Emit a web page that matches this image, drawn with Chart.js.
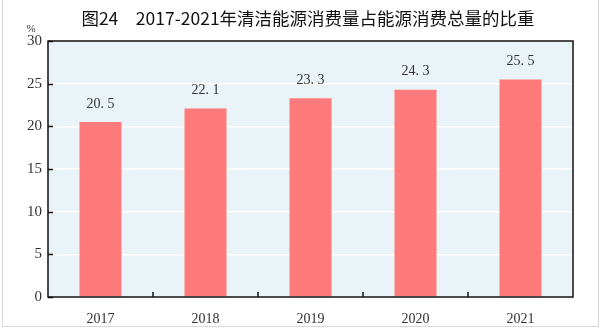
<!DOCTYPE html>
<html>
<head>
<meta charset="utf-8">
<script src="https://cdn.jsdelivr.net/npm/chart.js@4"></script>
<style>
  html, body { margin: 0; padding: 0; background: #fff; }
  #wrap { width: 600px; height: 329px; position: relative; }
</style>
</head>
<body>
<div id="wrap"><canvas id="chart" width="600" height="329"></canvas></div>
<script>
// Clean energy share of total energy consumption
const years = ['2017', '2018', '2019', '2020', '2021'];
const shares = [20.5, 22.1, 23.3, 24.3, 25.5];
const yTicks = [0, 5, 10, 15, 20, 25, 30];
const titleText = '图24　2017-2021年清洁能源消费量占能源消费总量的比重';

const serif = "'Liberation Serif', 'DejaVu Serif', serif";
const textColor = '#333';

// background, frame, inward ticks, value labels
const decor = {
  id: 'decor',
  beforeDraw(chart) {
    const { ctx, chartArea: a } = chart;
    ctx.save();
    ctx.fillStyle = '#fff';
    ctx.fillRect(0, 0, chart.width, chart.height);
    ctx.fillStyle = '#eaf3f7';
    ctx.fillRect(a.left, a.top, a.right - a.left, a.bottom - a.top);
    // outer light frame
    ctx.strokeStyle = '#d9d9d9';
    ctx.lineWidth = 1;
    ctx.strokeRect(2.5, -1, 596, 327.5);
    // title
    ctx.fillStyle = '#111';
    ctx.font = "normal 17.5px 'Noto Sans CJK SC', sans-serif";
    ctx.textAlign = 'center';
    ctx.textBaseline = 'middle';
    ctx.fillText(titleText, 308, 18);
    // unit
    ctx.font = '11px ' + serif;
    ctx.fillStyle = textColor;
    ctx.fillText('%', 31, 29);
    ctx.restore();
  },
  afterDatasetsDraw(chart) {
    const { ctx, chartArea: a, scales } = chart;
    ctx.save();
    ctx.strokeStyle = '#111';
    ctx.lineWidth = 1.5;
    // y ticks pointing inward
    yTicks.forEach(v => {
      const y = Math.round(scales.y.getPixelForValue(v)) + 0.5;
      ctx.beginPath();
      ctx.moveTo(a.left, y);
      ctx.lineTo(a.left + 5, y);
      ctx.stroke();
    });
    // x ticks between categories pointing inward
    for (let i = 0; i < years.length - 1; i++) {
      const x = (scales.x.getPixelForValue(i) + scales.x.getPixelForValue(i + 1)) / 2;
      ctx.beginPath();
      ctx.moveTo(x, a.bottom);
      ctx.lineTo(x, a.bottom - 5);
      ctx.stroke();
    }
    ctx.strokeRect(a.left, a.top, a.right - a.left, a.bottom - a.top);
    // value labels
    ctx.fillStyle = textColor;
    ctx.font = '14px ' + serif;
    ctx.textAlign = 'center';
    ctx.textBaseline = 'middle';
    const meta = chart.getDatasetMeta(0);
    meta.data.forEach((bar, i) => {
      ctx.fillText(shares[i].toFixed(1).replace('.', '. '), bar.x, bar.y - 18);
    });
    ctx.restore();
  }
};

new Chart(document.getElementById('chart').getContext('2d'), {
  type: 'bar',
  data: {
    labels: years,
    datasets: [{
      data: shares,
      backgroundColor: '#ff7b7b',
      borderWidth: 0,
      barPercentage: 0.4,
      categoryPercentage: 1
    }]
  },
  options: {
    responsive: false,
    animation: false,
    devicePixelRatio: 1,
    layout: { padding: { top: 41, left: 8, right: 27, bottom: 0 } },
    plugins: {
      legend: { display: false },
      tooltip: { enabled: false },
      title: { display: false }
    },
    scales: {
      x: {
        grid: { display: false },
        border: { display: false },
        ticks: { color: textColor, font: { family: serif, size: 14 }, padding: 6 },
        afterFit(s) { s.height = 32; }
      },
      y: {
        min: 0,
        max: 30,
        ticks: { stepSize: 5, color: textColor, font: { family: serif, size: 15 }, padding: 6 },
        grid: { color: '#ffffff', lineWidth: 1.5, drawTicks: false },
        border: { display: false },
        afterFit(s) { s.width = 40; }
      }
    }
  },
  plugins: [decor]
});
</script>
</body>
</html>
